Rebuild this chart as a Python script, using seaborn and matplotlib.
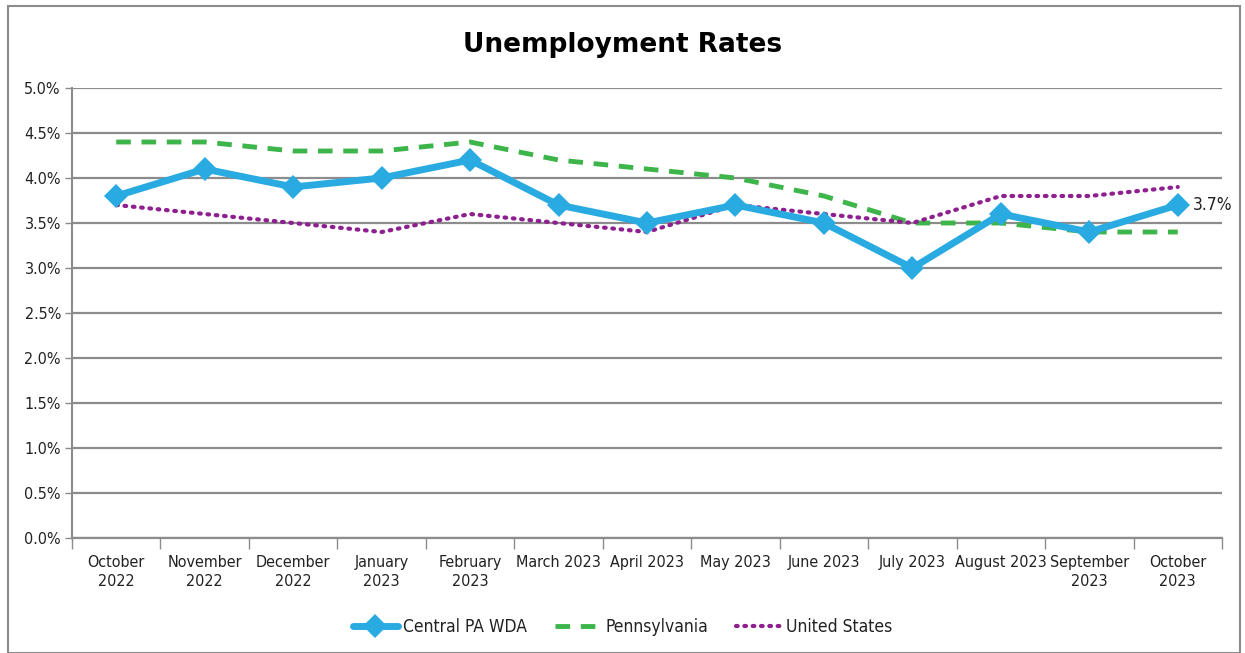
import matplotlib
matplotlib.use("Agg")
import matplotlib.pyplot as plt
import matplotlib.patches as mpatches
from matplotlib.ticker import FuncFormatter, FixedLocator
import seaborn as sns
import pandas as pd

months = ["October\n2022", "November\n2022", "December\n2022", "January\n2023", "February\n2023",
          "March 2023", "April 2023", "May 2023", "June 2023", "July 2023", "August 2023",
          "September\n2023", "October\n2023"]
central = [3.8, 4.1, 3.9, 4.0, 4.2, 3.7, 3.5, 3.7, 3.5, 3.0, 3.6, 3.4, 3.7]
pennsylvania = [4.4, 4.4, 4.3, 4.3, 4.4, 4.2, 4.1, 4.0, 3.8, 3.5, 3.5, 3.4, 3.4]
united_states = [3.7, 3.6, 3.5, 3.4, 3.6, 3.5, 3.4, 3.7, 3.6, 3.5, 3.8, 3.8, 3.9]
series_names = ["Central PA WDA", "Pennsylvania", "United States"]
title = "Unemployment Rates"

sns.set_theme(style="white")
plt.rcParams['font.family'] = ["DejaVu Sans"]
plt.rcParams['font.stretch'] = "condensed"

idx = list(range(len(months)))
df = pd.DataFrame({"x": idx * 3,
                   "val": central + pennsylvania + united_states,
                   "series": [series_names[0]] * 13 + [series_names[1]] * 13 + [series_names[2]] * 13})

fig = plt.figure(figsize=(12.45, 6.53), dpi=100)
ax = fig.add_axes([72 / 1245, 1 - 538 / 653, 1150 / 1245, 450 / 653])

blue, green, purple = "#29ABE2", "#3DB54A", "#8E1F8E"
sns.lineplot(data=df[df.series == series_names[1]], x="x", y="val", ax=ax, color=green,
             lw=3.5, linestyle=(0, (3, 2.2)), label=series_names[1], legend=False)
sns.lineplot(data=df[df.series == series_names[2]], x="x", y="val", ax=ax, color=purple,
             lw=3, linestyle=(0, (0.4, 1.6)), label=series_names[2], legend=False)
sns.lineplot(data=df[df.series == series_names[0]], x="x", y="val", ax=ax, color=blue,
             lw=5, marker="D", markersize=12.5, markeredgewidth=0, label=series_names[0], legend=False)
ax.lines[1].set_dash_capstyle("round")

ax.set_xlim(-0.5, 12.5)
ax.set_ylim(0, 5.0)
ax.set_yticks([i * 0.5 for i in range(11)])
ax.yaxis.set_major_formatter(FuncFormatter(lambda v, p: f"{v:.1f}%"))
ax.grid(axis="y", color="#8c8c8c", lw=1.6)
ax.set_axisbelow(True)

ax.set_xticks(idx)
ax.set_xticklabels(months, fontsize=11.5, color="#222222", linespacing=1.35)
ax.xaxis.set_minor_locator(FixedLocator([i - 0.5 for i in range(14)]))
ax.tick_params(axis="x", which="both", bottom=True)
ax.tick_params(axis="x", which="major", length=0, pad=12)
ax.tick_params(axis="x", which="minor", length=8, color="#8c8c8c", width=1, direction="out")
ax.tick_params(axis="y", left=True, length=5, color="#8c8c8c", width=1, direction="out", labelsize=11.5,
               labelcolor="#222222", pad=3)
ax.set_xlabel("")
ax.set_ylabel("")
for s in ["top", "right"]:
    ax.spines[s].set_visible(False)
ax.spines["left"].set_color("#8c8c8c")
ax.spines["left"].set_linewidth(1.5)
ax.spines["bottom"].set_color("#8c8c8c")
ax.spines["bottom"].set_linewidth(1.6)

ax.annotate(f"{central[-1]:.1f}%", xy=(12.17, central[-1]), fontsize=12.5, va="center", ha="left",
            color="#222222")

fig.suptitle(title, y=1 - 45 / 653, va="center", fontsize=19, fontweight="bold",
             color="black", fontstretch="semi-condensed")

handles, labels = ax.get_legend_handles_labels()
order = [labels.index(n) for n in series_names]
leg = fig.legend([handles[i] for i in order], [labels[i] for i in order], loc="center",
                 bbox_to_anchor=(0.5, 1 - 627 / 653), ncol=3, frameon=False, fontsize=12.5,
                 handlelength=2.6, columnspacing=1.6, handletextpad=0.3)
for t in leg.get_texts():
    t.set_color("#222222")

fig.add_artist(mpatches.Rectangle((8 / 1245, 0), 1232 / 1245, 1 - 6 / 653, transform=fig.transFigure,
                                  fill=False, edgecolor="#8c8c8c", lw=1.5))
fig.savefig("out.png", dpi=100)
